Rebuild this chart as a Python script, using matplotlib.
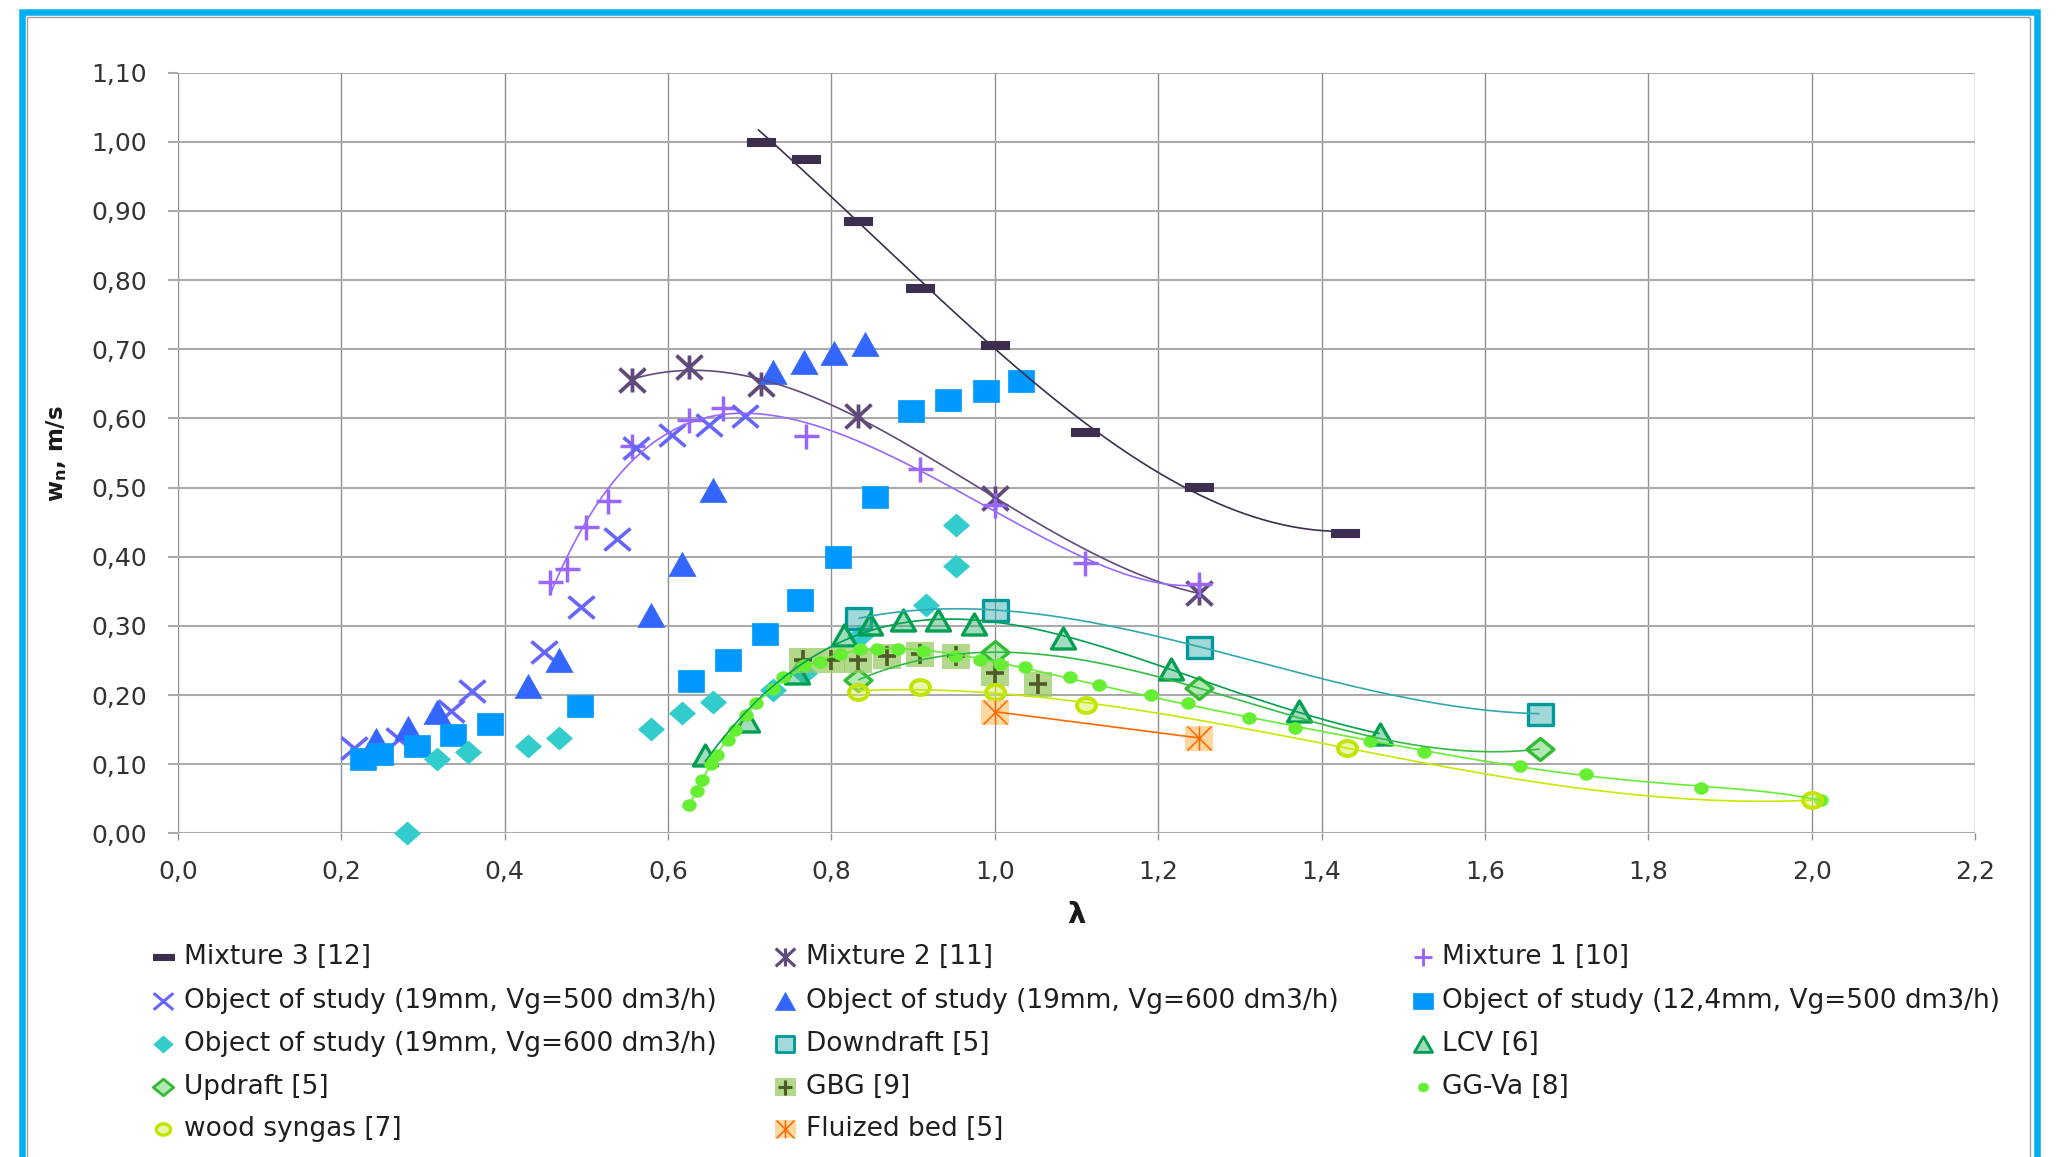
import numpy as np
import matplotlib
matplotlib.use('Agg')
import matplotlib.pyplot as plt
from matplotlib.path import Path
from matplotlib.lines import Line2D
from matplotlib.patches import Rectangle
from matplotlib.ticker import FuncFormatter

# ---------------- data ----------------
m3_x = [0.714, 0.769, 0.833, 0.909, 1.0, 1.111, 1.25, 1.429]
m3_y = [1.000, 0.975, 0.886, 0.788, 0.706, 0.581, 0.501, 0.434]

m2_x = [0.556, 0.625, 0.714, 0.833, 1.0, 1.25]
m2_y = [0.655, 0.675, 0.650, 0.604, 0.485, 0.347]

m1_x = [0.455, 0.476, 0.500, 0.526, 0.556, 0.625, 0.667, 0.769, 0.909, 1.0, 1.111, 1.25]
m1_y = [0.363, 0.382, 0.443, 0.481, 0.560, 0.598, 0.615, 0.575, 0.527, 0.475, 0.391, 0.360]

o5_x = [0.216, 0.270, 0.334, 0.360, 0.448, 0.493, 0.538, 0.561, 0.605, 0.650, 0.694]
o5_y = [0.124, 0.136, 0.177, 0.206, 0.262, 0.328, 0.425, 0.557, 0.576, 0.590, 0.603]

o6_x = [0.242, 0.281, 0.317, 0.428, 0.466, 0.579, 0.617, 0.655, 0.729, 0.766, 0.803, 0.841]
o6_y = [0.135, 0.153, 0.175, 0.213, 0.251, 0.316, 0.390, 0.496, 0.667, 0.681, 0.695, 0.707]

sq_x = [0.226, 0.247, 0.293, 0.337, 0.382, 0.492, 0.628, 0.673, 0.719, 0.762, 0.808, 0.853,
        0.897, 0.943, 0.989, 1.032]
sq_y = [0.107, 0.115, 0.127, 0.142, 0.158, 0.184, 0.221, 0.251, 0.288, 0.337, 0.399, 0.487,
        0.611, 0.626, 0.640, 0.654]

di_x = [0.280, 0.317, 0.355, 0.428, 0.466, 0.579, 0.617, 0.655, 0.729, 0.766, 0.835, 0.916, 0.953, 0.953]
di_y = [0.000, 0.108, 0.117, 0.126, 0.138, 0.151, 0.174, 0.190, 0.208, 0.232, 0.286, 0.330, 0.386, 0.446]

dd_x = [0.833, 1.0, 1.25, 1.667]
dd_y = [0.311, 0.323, 0.270, 0.173]

lcv_x = [0.645, 0.697, 0.758, 0.815, 0.847, 0.887, 0.931, 0.975, 1.084, 1.216, 1.373, 1.471]
lcv_y = [0.113, 0.163, 0.232, 0.287, 0.303, 0.308, 0.308, 0.303, 0.282, 0.238, 0.177, 0.143]

up_x = [0.833, 1.0, 1.25, 1.667]
up_y = [0.222, 0.262, 0.210, 0.122]

gbg_x = [0.765, 0.800, 0.833, 0.868, 0.909, 0.952, 1.0, 1.053]
gbg_y = [0.251, 0.250, 0.251, 0.256, 0.259, 0.257, 0.232, 0.216]

gg_x = [0.626, 0.635, 0.641, 0.653, 0.660, 0.673, 0.682, 0.695, 0.708, 0.728, 0.741, 0.766,
        0.786, 0.810, 0.835, 0.856, 0.882, 0.912, 0.951, 0.982, 1.006, 1.037, 1.092, 1.128,
        1.191, 1.236, 1.311, 1.368, 1.459, 1.526, 1.643, 1.724, 1.865, 2.011]
gg_y = [0.041, 0.062, 0.077, 0.100, 0.113, 0.135, 0.149, 0.171, 0.189, 0.209, 0.226, 0.243,
        0.248, 0.259, 0.266, 0.267, 0.266, 0.264, 0.257, 0.250, 0.245, 0.240, 0.226, 0.215,
        0.200, 0.188, 0.167, 0.153, 0.133, 0.118, 0.098, 0.086, 0.066, 0.048]

ws_x = [0.833, 0.909, 1.0, 1.112, 1.431, 2.0]
ws_y = [0.204, 0.211, 0.204, 0.186, 0.124, 0.048]

fb_x = [1.0, 1.25]
fb_y = [0.176, 0.138]

labels = ["Mixture 3 [12]", "Mixture 2 [11]", "Mixture 1 [10]",
          "Object of study (19mm, Vg=500 dm3/h)", "Object of study (19mm, Vg=600 dm3/h)",
          "Object of study (12,4mm, Vg=500 dm3/h)",
          "Object of study (19mm, Vg=600 dm3/h)", "Downdraft [5]", "LCV [6]",
          "Updraft [5]", "GBG [9]", "GG-Va [8]",
          "wood syngas [7]", "Fluized bed [5]"]

x_ticks = np.round(np.arange(0, 2.21, 0.2), 1)
y_ticks = np.round(np.arange(0, 1.101, 0.1), 2)

# ---------------- figure ----------------
W, H = 2071, 1157
PT = 72 / 100.0
fig = plt.figure(figsize=(W / 100, H / 100), dpi=100)
fig.patch.set_facecolor('white')


def fx(px):
    return px / W


def fy(py):
    return 1 - py / H


ax = fig.add_axes([fx(178), fy(833.4), fx(1975) - fx(178), fy(72.6) - fy(833.4)])
ax.set_xlim(0, 2.2)
ax.set_ylim(0, 1.1)
for s in ax.spines.values():
    s.set_visible(False)
ax.set_xticks(x_ticks)
ax.set_yticks(y_ticks)
ax.xaxis.set_major_formatter(FuncFormatter(lambda v, p: f"{v:.1f}".replace('.', ',')))
ax.yaxis.set_major_formatter(FuncFormatter(lambda v, p: f"{v:.2f}".replace('.', ',')))
ax.set_axisbelow(True)
ax.yaxis.grid(True, color='#ababab', lw=1.5)
ax.xaxis.grid(True, color='#8f8f8f', lw=1.0)
ax.tick_params(axis='y', length=10 * PT, width=1.5, color='#ababab', pad=15,
               labelsize=18, labelcolor='#333333')
ax.tick_params(axis='x', length=7 * PT, width=1.0, color='#8f8f8f', pad=14,
               labelsize=18, labelcolor='#333333')


# ---------------- marker shapes (sizes in px) ----------------
def mk(shape, w, h):
    a, b = w / 2.0, h / 2.0
    if shape == 'rect':
        p = Path([(-a, -b), (a, -b), (a, b), (-a, b), (-a, -b)], closed=True)
    elif shape == 'tri':
        p = Path([(-a, -b), (a, -b), (0, b), (-a, -b)], closed=True)
    elif shape == 'dia':
        p = Path([(0, -b), (a, 0), (0, b), (-a, 0), (0, -b)], closed=True)
    elif shape == 'ell':
        c = Path.unit_circle()
        p = Path(c.vertices * np.array([a, b]), c.codes)
    elif shape == 'x':
        p = Path([(-a, -b), (a, b), (-a, b), (a, -b)],
                 [Path.MOVETO, Path.LINETO, Path.MOVETO, Path.LINETO])
    elif shape == 'plus':
        p = Path([(-a, 0), (a, 0), (0, -b), (0, b)],
                 [Path.MOVETO, Path.LINETO, Path.MOVETO, Path.LINETO])
    elif shape == 'star':
        p = Path([(-a, -b), (a, b), (-a, b), (a, -b), (0, -b), (0, b)],
                 [Path.MOVETO, Path.LINETO, Path.MOVETO, Path.LINETO, Path.MOVETO, Path.LINETO])
    return dict(marker=p, markersize=max(w, h) * PT)


def rgba(hexc, a):
    c = matplotlib.colors.to_rgb(hexc)
    return (c[0], c[1], c[2], a)


def styles(f, lwf=1.0):
    """list of marker-style dicts per series, f = size factor"""
    S = []
    S.append([dict(**mk('rect', 28 * f, 8 * f), mfc='#3b2e4f', mec='#3b2e4f', mew=0.8)])
    S.append([dict(**mk('star', 26 * f, 24 * f), mfc='none', mec='#604a7b', mew=2.7 * lwf)])
    S.append([dict(**mk('plus', 25 * f, 25 * f), mfc='none', mec='#9966ff', mew=2.5 * lwf)])
    S.append([dict(**mk('x', 26 * f, 22 * f), mfc='none', mec='#6666ff', mew=2.6 * lwf)])
    S.append([dict(**mk('tri', 27 * f, 24 * f), mfc='#3366ff', mec='#3366ff', mew=0.5)])
    S.append([dict(**mk('rect', 26 * f, 22 * f), mfc='#0099ff', mec='#0099ff', mew=0.5)])
    S.append([dict(**mk('dia', 26 * f, 23 * f), mfc='#33cccc', mec='#33cccc', mew=0.5)])
    S.append([dict(**mk('rect', 25 * f, 21 * f), mfc=rgba('#33aaaa', 0.45), mec='#009999', mew=2.4 * lwf)])
    S.append([dict(**mk('tri', 24 * f, 21 * f), mfc=rgba('#33b070', 0.45), mec='#00a050', mew=2.4 * lwf)])
    S.append([dict(**mk('dia', 27 * f, 22 * f), mfc=rgba('#55cc55', 0.45), mec='#33bb33', mew=2.4 * lwf)])
    S.append([dict(**mk('rect', 28 * f, 25 * f), mfc=rgba('#99cc66', 0.75), mec='none', mew=0),
              dict(**mk('plus', 19 * f, 20 * f), mfc='none', mec='#4f5b26', mew=2.6 * lwf)])
    S.append([dict(**mk('ell', 14 * f, 12 * f), mfc='#66ee33', mec='#66ee33', mew=0.3)])
    S.append([dict(**mk('ell', 19 * f, 15 * f), mfc=rgba('#d6ee55', 0.5), mec='#c2e400', mew=2.8 * lwf)])
    S.append([dict(**mk('rect', 28 * f, 25 * f), mfc=rgba('#ffcc80', 0.75), mec='none', mew=0),
              dict(**mk('star', 24 * f, 24 * f), mfc='none', mec='#ff6600', mew=1.1)])
    return S


series = [(m3_x, m3_y), (m2_x, m2_y), (m1_x, m1_y), (o5_x, o5_y), (o6_x, o6_y), (sq_x, sq_y),
          (di_x, di_y), (dd_x, dd_y), (lcv_x, lcv_y), (up_x, up_y), (gbg_x, gbg_y),
          (gg_x, gg_y), (ws_x, ws_y), (fb_x, fb_y)]

ST = styles(1.0)
for i, ((xs, ys), sty) in enumerate(zip(series, ST)):
    for k, s in enumerate(sty):
        ax.plot(xs, ys, ls='none', clip_on=False, zorder=3 + i * 0.1 + k * 0.01, **s)


# ---------------- polynomial trendlines ----------------
def trend(xs, ys, deg, color, ext=0.0):
    c = np.polyfit(xs, ys, deg)
    xx = np.linspace(min(xs) - ext, max(xs), 400)
    ax.plot(xx, np.polyval(c, xx), color=color, lw=1.2, zorder=6, solid_capstyle='butt')


trend(m3_x, m3_y, 3, '#3b2e4f', ext=0.004)
trend(m2_x, m2_y, 3, '#604a7b')
trend(m1_x, m1_y, 5, '#9966ff')
trend(dd_x, dd_y, 3, '#2fa9b0')
trend(lcv_x, lcv_y, 4, '#00a050')
trend(up_x, up_y, 3, '#33bb44')
trend(gg_x, gg_y, 6, '#66ee33')
trend(ws_x, ws_y, 3, '#c8e800')
trend(fb_x, fb_y, 1, '#ff6600')

# ---------------- axis titles ----------------
fig.text(fx(1076), fy(915), 'λ', fontsize=21, fontweight='bold', ha='center', va='center',
         color='#1a1a1a')
fig.text(fx(57), fy(454), r'$\mathbf{w_n}$, m/s', fontsize=16.5, fontweight='bold', rotation=90,
         ha='center', va='center', color='#1a1a1a')

# ---------------- legend (row-major, 3 columns) ----------------
col_mx = [163, 785, 1423]
col_tx = [184, 806, 1442]
row_y = [957, 1001, 1044, 1087, 1129]
LS = styles(0.75, 0.85)
for i, lab in enumerate(labels):
    r, c = divmod(i, 3)
    for s in LS[i]:
        fig.add_artist(Line2D([fx(col_mx[c])], [fy(row_y[r])], transform=fig.transFigure,
                              ls='none', **s))
    fig.text(fx(col_tx[c]), fy(row_y[r]), lab, fontsize=19, ha='left', va='center',
             color='#1f1f1f')

# ---------------- blue frame ----------------
fig.add_artist(Rectangle((fx(22), fy(1300)), fx(2036.5) - fx(22), fy(12) - fy(1300),
                         transform=fig.transFigure, fill=False, ec='#00b0f0', lw=6.5 * PT))
fig.add_artist(Rectangle((fx(27), fy(1300)), fx(2030) - fx(27), fy(16.5) - fy(1300),
                         transform=fig.transFigure, fill=False, ec='#a0a0a0', lw=1.4 * PT))

fig.savefig('out.png', dpi=100, facecolor='white')
